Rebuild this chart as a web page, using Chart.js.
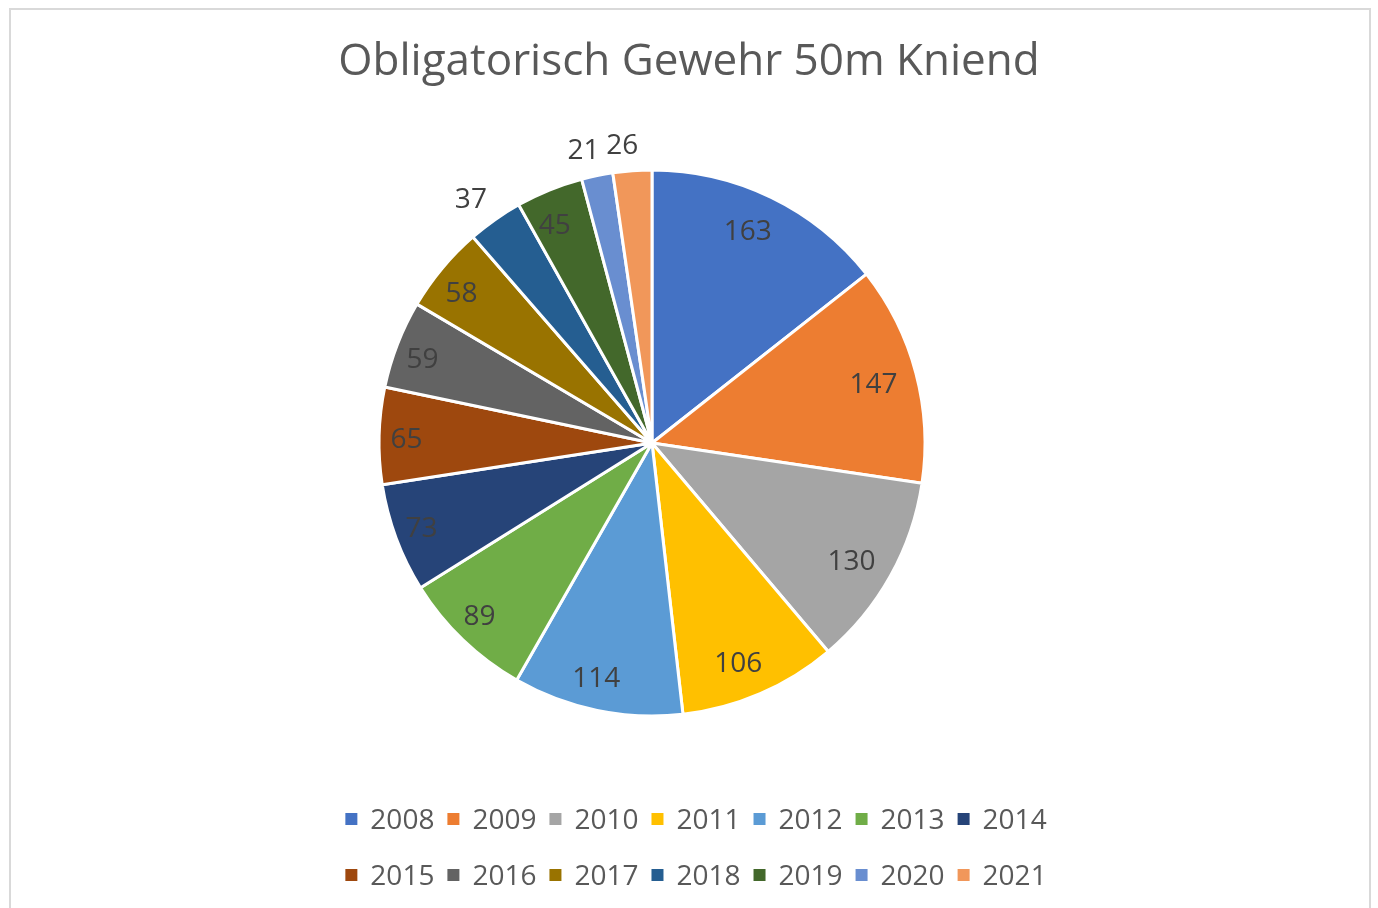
<!DOCTYPE html>
<html><head><meta charset="utf-8">
<script src="https://cdn.jsdelivr.net/npm/chart.js@4"></script>
<style>
html,body{margin:0;padding:0;background:#fff;overflow:hidden;width:1378px;height:908px;}
#frame{position:absolute;left:9px;top:8px;width:1358px;height:960px;border:2px solid #d9d9d9;box-sizing:content-box;}
#c{position:absolute;left:0;top:0;}
</style></head><body>
<div id="frame"></div>
<canvas id="c" width="1378" height="908"></canvas>
<script>
const chartTitle = 'Obligatorisch Gewehr 50m Kniend';
const years = ['2008','2009','2010','2011','2012','2013','2014','2015','2016','2017','2018','2019','2020','2021'];
const values = [163,147,130,106,114,89,73,65,59,58,37,45,21,26];
const colors = ['#4472C4','#ED7D31','#A5A5A5','#FFC000','#5B9BD5','#70AD47','#264478','#9E480E','#636363','#997300','#255E91','#43682B','#698ED0','#F1975A'];

const FONT = '"Open Sans", "DejaVu Sans", sans-serif';

const labelPlugin = {
  id: 'sliceLabels',
  afterDatasetsDraw(chart) {
    const ctx = chart.ctx;
    const meta = chart.getDatasetMeta(0);
    ctx.save();
    ctx.font = '28px ' + FONT;
    ctx.fillStyle = '#404040';
    ctx.textAlign = 'center';
    ctx.textBaseline = 'alphabetic';
    meta.data.forEach((arc, i) => {
      const p = arc.getProps(['x','y','startAngle','endAngle','outerRadius'], true);
      const mid = (p.startAngle + p.endAngle) / 2;
      const span = (p.endAngle - p.startAngle) * 180 / Math.PI;
      const r = span < 13 ? p.outerRadius + 28 : p.outerRadius * 0.87;
      const x = p.x - 8 + Math.cos(mid) * r;
      const y = p.y + Math.sin(mid) * r;
      ctx.fillText(String(values[i]), x, y + 11);
    });
    ctx.restore();
  }
};

const titleLegendPlugin = {
  id: 'titleLegend',
  afterDraw(chart) {
    const ctx = chart.ctx;
    ctx.save();
    ctx.fillStyle = '#595959';
    ctx.textAlign = 'center';
    ctx.textBaseline = 'alphabetic';
    ctx.font = '44px ' + FONT;
    ctx.fillText(chartTitle, 689, 75);
    // legend
    ctx.font = '28px ' + FONT;
    ctx.textAlign = 'left';
    const box = 12, gap = 13, sp = 13, perRow = 7, cx = 696;
    const rowsY = [819, 875];
    for (let r = 0; r < 2; r++) {
      const items = years.slice(r * perRow, (r + 1) * perRow);
      const widths = items.map(t => box + gap + ctx.measureText(t).width);
      const total = widths.reduce((a, b) => a + b, 0) + sp * (items.length - 1);
      let x = cx - total / 2;
      items.forEach((t, k) => {
        const idx = r * perRow + k;
        ctx.fillStyle = colors[idx];
        ctx.fillRect(x, rowsY[r] - box / 2, box, box);
        ctx.fillStyle = '#595959';
        ctx.fillText(t, x + box + gap, rowsY[r] + 10);
        x += widths[k] + sp;
      });
    }
    ctx.restore();
  }
};

new Chart(document.getElementById('c'), {
  type: 'pie',
  data: {
    labels: years,
    datasets: [{
      data: values,
      backgroundColor: colors,
      borderColor: '#ffffff',
      borderWidth: 3,
      radius: 273
    }]
  },
  options: {
    responsive: false,
    animation: false,
    layout: { padding: { left: 380, right: 454, top: 171, bottom: 193 } },
    plugins: {
      legend: { display: false },
      title: { display: false },
      tooltip: { enabled: false }
    }
  },
  plugins: [labelPlugin, titleLegendPlugin]
});
</script>
</body></html>
